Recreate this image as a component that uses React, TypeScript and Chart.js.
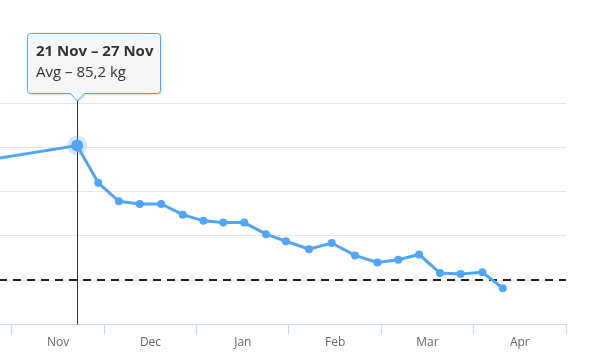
import React, { useEffect, useRef } from 'react';
import { Chart, registerables } from 'chart.js';

Chart.register(...registerables);

// ---- data ----
const MONTHS = ['Nov', 'Dec', 'Jan', 'Feb', 'Mar', 'Apr'];
const MONTH_LEN = 30.5; // axis days per month slot
const X_MIN = -3.96;
const X_MAX = 183;
// day offsets from 1 Nov of each weekly average
const DAYS = [-9.5, 21.5, 28.5, 35.3, 42.2, 49.3, 56.4, 63.2, 69.8, 76.7, 83.9, 90.5, 98.1, 105.6, 113.3, 120.7, 127.6, 134.5, 141.4, 148.2, 155.4, 162.1];
const WEIGHTS = [83.5, 85.2, 81.0, 78.9, 78.6, 78.6, 77.4, 76.7, 76.5, 76.5, 75.2, 74.4, 73.5, 74.2, 72.8, 72.0, 72.3, 72.9, 70.8, 70.7, 70.9, 69.1];
const GOAL = 70;
const Y_MIN = 65;
const Y_MAX = 90;
const Y_STEP = 5;
const ACTIVE = 1;
const TOOLTIP_TITLE = '21 Nov – 27 Nov';
const TOOLTIP_BODY = `Avg – ${WEIGHTS[ACTIVE].toFixed(1).replace('.', ',')} kg`;

const COLOR = '#52a5f5';
const FONT = '"Open Sans", "Noto Sans", sans-serif';

const isBoundary = (v: number) => Math.abs(v / MONTH_LEN - Math.round(v / MONTH_LEN)) < 1e-6;

const overlay = {
  id: 'overlay',
  beforeDatasetsDraw(chart: any) {
    const { ctx, chartArea, scales } = chart;
    const y = scales.y;
    const gy = Math.round(y.getPixelForValue(GOAL));
    ctx.save();
    // goal line
    ctx.strokeStyle = '#222';
    ctx.lineWidth = 2;
    ctx.setLineDash([8, 6]);
    ctx.lineDashOffset = 1;
    ctx.beginPath();
    ctx.moveTo(chartArea.left, gy);
    ctx.lineTo(chartArea.right, gy);
    ctx.stroke();
    ctx.setLineDash([]);
    const pt = chart.getDatasetMeta(0).data[ACTIVE];
    // crosshair
    const cx = Math.round(pt.x) + 0.5;
    ctx.strokeStyle = '#333';
    ctx.lineWidth = 1;
    ctx.beginPath();
    ctx.moveTo(cx, chartArea.top - 4);
    ctx.lineTo(cx, chartArea.bottom);
    ctx.stroke();
    // halo
    ctx.fillStyle = 'rgba(82,165,245,0.25)';
    ctx.beginPath();
    ctx.arc(pt.x, pt.y, 10, 0, Math.PI * 2);
    ctx.fill();
    ctx.restore();
  },
  afterDraw(chart: any) {
    const { ctx, chartArea } = chart;
    const pt = chart.getDatasetMeta(0).data[ACTIVE];
    ctx.save();
    ctx.font = `bold 15px ${FONT}`;
    const w1 = ctx.measureText(TOOLTIP_TITLE).width;
    ctx.font = `15px ${FONT}`;
    const w2 = ctx.measureText(TOOLTIP_BODY).width;
    const pad = 9;
    const w = Math.round(Math.max(w1, w2) + pad * 2 - 2);
    const h = 60;
    const cx = Math.round(pt.x) + 0.5;
    const tipY = chartArea.top - 2;
    const b = tipY - 8 + 0.5;
    const t = b - h;
    const l = Math.round(pt.x) - 50 + 0.5;
    const r = l + w;
    const rad = 3;
    ctx.beginPath();
    ctx.moveTo(l + rad, t);
    ctx.lineTo(r - rad, t);
    ctx.arcTo(r, t, r, t + rad, rad);
    ctx.lineTo(r, b - rad);
    ctx.arcTo(r, b, r - rad, b, rad);
    ctx.lineTo(cx + 7, b);
    ctx.lineTo(cx, tipY);
    ctx.lineTo(cx - 7, b);
    ctx.lineTo(l + rad, b);
    ctx.arcTo(l, b, l, b - rad, rad);
    ctx.lineTo(l, t + rad);
    ctx.arcTo(l, t, l + rad, t, rad);
    ctx.closePath();
    ctx.shadowColor = 'rgba(0,0,0,0.18)';
    ctx.shadowBlur = 3;
    ctx.shadowOffsetX = 1;
    ctx.shadowOffsetY = 1;
    ctx.fillStyle = 'rgba(248,248,248,0.95)';
    ctx.fill();
    ctx.shadowColor = 'transparent';
    ctx.strokeStyle = COLOR;
    ctx.lineWidth = 1;
    ctx.stroke();
    ctx.fillStyle = '#333';
    ctx.textBaseline = 'alphabetic';
    ctx.textAlign = 'left';
    ctx.font = `bold 15px ${FONT}`;
    ctx.fillText(TOOLTIP_TITLE, l + pad - 0.5, t + 22);
    ctx.font = `15px ${FONT}`;
    ctx.fillText(TOOLTIP_BODY, l + pad - 0.5, t + 43);
    ctx.restore();
  },
};

export default function App() {
  const ref = useRef<HTMLCanvasElement | null>(null);
  useEffect(() => {
    if (!ref.current) return;
    const chart = new Chart(ref.current, {
      type: 'line',
      data: {
        datasets: [
          {
            data: DAYS.map((d, i) => ({ x: d, y: WEIGHTS[i] })),
            borderColor: COLOR,
            backgroundColor: COLOR,
            borderWidth: 3,
            pointRadius: (c: any) => (c.dataIndex === ACTIVE ? 6 : 4),
            pointBackgroundColor: COLOR,
            pointBorderWidth: 0,
            tension: 0,
          },
        ],
      },
      options: {
        animation: false,
        responsive: false,
        maintainAspectRatio: false,
        layout: { autoPadding: false, padding: { top: 103, right: 23, left: 0, bottom: 8.1 } },
        plugins: { legend: { display: false }, tooltip: { enabled: false } },
        events: [],
        scales: {
          x: {
            type: 'linear',
            min: X_MIN,
            max: X_MAX,
            afterBuildTicks: (scale: any) => {
              const ticks: any[] = [];
              for (let m = 0; m <= MONTHS.length; m++) {
                ticks.push({ value: m * MONTH_LEN });
                if (m < MONTHS.length) ticks.push({ value: m * MONTH_LEN + MONTH_LEN / 2 });
              }
              scale.ticks = ticks;
            },
            ticks: {
              autoSkip: false,
              maxRotation: 0,
              padding: 0.5,
              color: '#666',
              font: { family: FONT, size: 12 },
              callback: (v: any) => {
                const n = Number(v);
                if (isBoundary(n)) return '';
                const idx = Math.round(n / MONTH_LEN - 0.5);
                return MONTHS[idx] ?? '';
              },
            },
            grid: {
              drawOnChartArea: false,
              drawTicks: true,
              tickLength: 10,
              tickColor: (c: any) => (c.tick && isBoundary(c.tick.value) ? '#ccd6eb' : 'rgba(0,0,0,0)'),
            },
            border: { display: true, color: '#ccd6eb', width: 1 },
          },
          y: {
            type: 'linear',
            min: Y_MIN,
            max: Y_MAX,
            afterFit: (s: any) => {
              s.width = 0;
            },
            ticks: { display: false, stepSize: Y_STEP, padding: 0 },
            grid: { color: '#e6e6e6', drawTicks: false },
            border: { display: false },
          },
        },
      },
      plugins: [overlay],
    } as any);
    return () => chart.destroy();
  }, []);
  return (
    <div style={{ position: 'absolute', left: 0, top: 0, width: 589, height: 358 }}>
      <canvas ref={ref} width={589} height={358} />
    </div>
  );
}
